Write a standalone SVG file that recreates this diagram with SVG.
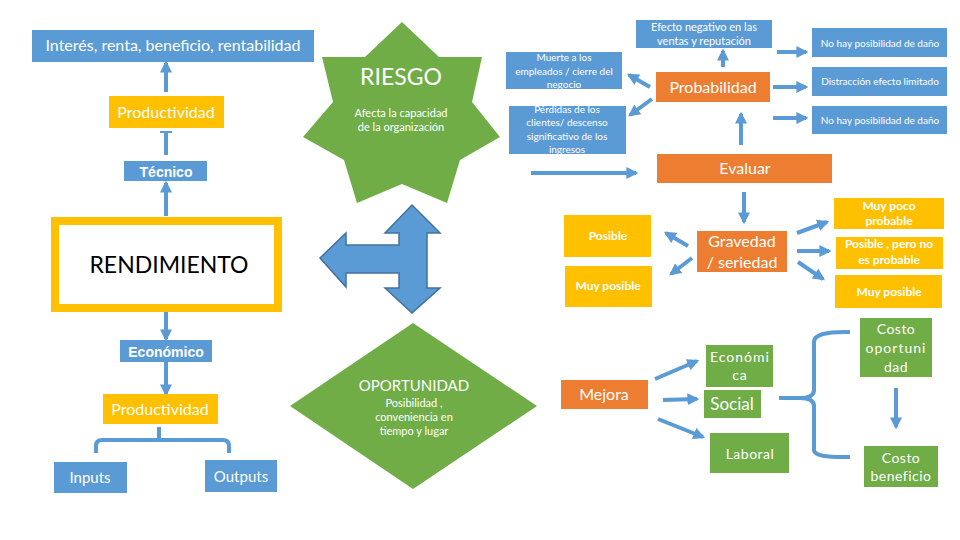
<svg xmlns="http://www.w3.org/2000/svg" width="960" height="540" viewBox="0 0 960 540">
<defs>
<marker id="ah" viewBox="0 0 10 10" refX="8" refY="5" markerWidth="3" markerHeight="3" orient="auto" markerUnits="strokeWidth">
<path d="M0,0 L10,5 L0,10 Z" fill="#5B9BD5"/>
</marker>
<style>
.blue{fill:#5B9BD5}
.yel{fill:#FFC000}
.org{fill:#ED7D31}
.grn{fill:#70AD47}
text{font-family:Lato,"Open Sans","Liberation Sans",sans-serif;fill:#fff;text-anchor:middle}
.b{font-weight:bold}
.ar{font-family:"Liberation Sans",Arial,sans-serif;font-weight:bold}
.s10{font-size:10px}
.s11{font-size:11px}
.s12{font-size:12px}
.s14{font-size:14px}
.s16{font-size:16px}
.cn line,.cn path{stroke:#5B9BD5;stroke-width:4;fill:none}
.cn .a{marker-end:url(#ah)}
</style>
</defs>
<rect width="960" height="540" fill="#fff"/>

<g id="connectors" class="cn">
<line class="a" x1="166" y1="92" x2="166" y2="63"/>
<line x1="166" y1="155" x2="166" y2="132"/>
<line x1="160" y1="132" x2="172" y2="132" style="stroke-width:2"/>
<line class="a" x1="166" y1="216" x2="166" y2="183"/>
<line class="a" x1="166" y1="312" x2="166" y2="339"/>
<line class="a" x1="166" y1="362" x2="166" y2="394"/>
<path d="M159,427 V440 M96,453 V446 Q96,440 102,440 H223 Q229,440 229,446 V453"/>
<line class="a" x1="650" y1="87" x2="629" y2="75"/>
<line class="a" x1="652" y1="99" x2="630" y2="115"/>
<line class="a" x1="531" y1="173" x2="636" y2="173"/>
<line class="a" x1="723" y1="67" x2="723" y2="51"/>
<line class="a" x1="777" y1="52" x2="806" y2="52"/>
<line class="a" x1="773" y1="87" x2="806" y2="87"/>
<line class="a" x1="773" y1="118" x2="806" y2="118"/>
<line class="a" x1="741" y1="145" x2="741" y2="114"/>
<line class="a" x1="744" y1="192" x2="744" y2="222"/>
<line class="a" x1="688" y1="246" x2="666" y2="233"/>
<line class="a" x1="692" y1="258" x2="671" y2="274"/>
<line class="a" x1="797" y1="233" x2="827" y2="222"/>
<line class="a" x1="797" y1="251" x2="829" y2="251"/>
<line class="a" x1="798" y1="262" x2="823" y2="279"/>
<line class="a" x1="655" y1="379" x2="697" y2="361"/>
<line class="a" x1="663" y1="400" x2="697" y2="399"/>
<line class="a" x1="658" y1="419" x2="703" y2="437"/>
<path d="M779,398 H800 M850,332 Q814,331 814,342 V390 Q814,398 800,398 Q814,398 814,406 V450 Q814,458 850,457"/>
<line class="a" x1="896" y1="388" x2="896" y2="427"/>
</g>

<g id="interes"><rect class="blue" x="32" y="30" width="282" height="32"/><text class="s16" x="173" y="51">Interés, renta, beneficio, rentabilidad</text></g>
<g id="productividad1"><rect class="yel" x="109" y="96" width="115" height="32"/><text class="s16" x="166" y="118">Productividad</text></g>
<g id="tecnico"><rect class="blue" x="124" y="161" width="83" height="20"/><text class="ar s14" x="166" y="177">Técnico</text></g>
<g id="rendimiento"><rect x="55" y="221" width="223" height="87" fill="#fff" stroke="#FFC000" stroke-width="8"/><text x="169" y="273" style="font-size:23px;fill:#000">RENDIMIENTO</text></g>
<g id="economico"><rect class="blue" x="120" y="340" width="92" height="22"/><text class="ar s14" x="166" y="357">Económico</text></g>
<g id="productividad2"><rect class="yel" x="103" y="394" width="115" height="30"/><text class="s16" x="160" y="415">Productividad</text></g>
<g id="inputs"><rect class="blue" x="54" y="462" width="73" height="31"/><text style="font-size:15px" x="90" y="483">Inputs</text></g>
<g id="outputs"><rect class="blue" x="205" y="460" width="72" height="32"/><text style="font-size:15px" x="241" y="482">Outputs</text></g>

<g id="riesgo">
<polygon class="grn" points="402,22 439,57 482,57 472,102 500,137 460,160 447,203 402,184 357,203 344,160 303,137 333,102 322,57 365,57"/>
<text x="401" y="85" style="font-size:23px">RIESGO</text>
<text class="s11" x="401" y="117">Afecta la capacidad</text>
<text class="s11" x="401" y="131">de la organización</text>
</g>

<g id="cruz"><path d="M320,258 L346,233 L346,245 L399,245 L399,233 L385,233 L412,205 L440,233 L427,233 L427,288 L440,288 L412,313 L385,288 L399,288 L399,273 L346,273 L346,287 Z" fill="#5B9BD5" stroke="#41719C" stroke-width="1.5"/></g>

<g id="oportunidad">
<polygon class="grn" points="413,323 537,406 413,489 290,406"/>
<text x="414" y="391" style="font-size:15px">OPORTUNIDAD</text>
<text class="s11" x="414" y="407">Posibilidad ,</text>
<text class="s11" x="414" y="421">conveniencia en</text>
<text class="s11" x="414" y="435">tiempo y lugar</text>
</g>

<g id="muerte"><rect class="blue" x="506" y="52" width="116" height="37"/><text class="s10" x="564" y="61">Muerte a los</text><text class="s10" x="564" y="75">empleados / cierre del</text><text class="s10" x="564" y="88">negocio</text></g>
<g id="perdidas"><rect class="blue" x="509" y="106" width="117" height="48"/><text class="s10" x="567" y="113">Pérdidas de los</text><text class="s10" x="567" y="126">clientes/ descenso</text><text class="s10" x="567" y="140">significativo de los</text><text class="s10" x="567" y="153">ingresos</text></g>
<g id="efecto"><rect class="blue" x="636" y="20" width="136" height="28"/><text class="s11" x="704" y="31">Efecto negativo en las</text><text class="s11" x="704" y="45">ventas y reputación</text></g>
<g id="probabilidad"><rect class="org" x="656" y="72" width="114" height="30"/><text class="s16" x="713" y="93">Probabilidad</text></g>
<g id="nohay1"><rect class="blue" x="812" y="28" width="135" height="29"/><text class="s10" x="880" y="47">No hay posibilidad de daño</text></g>
<g id="distraccion"><rect class="blue" x="812" y="67" width="135" height="29"/><text class="s10" x="880" y="85">Distracción efecto limitado</text></g>
<g id="nohay2"><rect class="blue" x="812" y="106" width="135" height="28"/><text class="s10" x="880" y="124">No hay posibilidad de daño</text></g>
<g id="evaluar"><rect class="org" x="657" y="154" width="175" height="29"/><text class="s16" x="745" y="174">Evaluar</text></g>
<g id="gravedad"><rect class="org" x="697" y="231" width="90" height="41"/><text class="s16" x="742" y="247">Gravedad</text><text class="s16" x="742" y="268">/ seriedad</text></g>
<g id="posible"><rect class="yel" x="564" y="215" width="87" height="42"/><text class="b s12" x="608" y="240">Posible</text></g>
<g id="muyposible1"><rect class="yel" x="565" y="266" width="87" height="41"/><text class="b s12" x="608" y="290">Muy posible</text></g>
<g id="muypoco"><rect class="yel" x="834" y="198" width="110" height="31"/><text class="b s12" x="889" y="210">Muy poco</text><text class="b s12" x="889" y="225">probable</text></g>
<g id="posiblepero"><rect class="yel" x="836" y="237" width="107" height="32"/><text class="b s12" x="889" y="248">Posible , pero no</text><text class="b s12" x="889" y="264">es probable</text></g>
<g id="muyposible2"><rect class="yel" x="835" y="275" width="107" height="33"/><text class="b s12" x="889" y="296">Muy posible</text></g>
<g id="mejora"><rect class="org" x="561" y="380" width="87" height="29"/><text class="s16" x="604" y="400">Mejora</text></g>
<g id="economica"><rect class="grn" x="706" y="345" width="67" height="42"/><text class="s14" x="740" y="362" style="letter-spacing:1px">Económi</text><text class="s14" x="740" y="380" style="letter-spacing:1px">ca</text></g>
<g id="social"><rect class="grn" x="704" y="390" width="57" height="28"/><text x="732" y="410" style="font-size:17px">Social</text></g>
<g id="laboral"><rect class="grn" x="710" y="433" width="79" height="40"/><text class="s14" x="750" y="459" style="letter-spacing:0.5px">Laboral</text></g>
<g id="costoop"><rect class="grn" x="860" y="318" width="72" height="59"/><text class="s14" x="896" y="334" style="letter-spacing:0.5px">Costo</text><text class="s14" x="896" y="353" style="letter-spacing:1px">oportuni</text><text class="s14" x="896" y="372" style="letter-spacing:0.5px">dad</text></g>
<g id="costoben"><rect class="grn" x="864" y="446" width="74" height="41"/><text class="s14" x="901" y="463" style="letter-spacing:0.5px">Costo</text><text class="s14" x="901" y="481" style="letter-spacing:0.5px">beneficio</text></g>
</svg>
